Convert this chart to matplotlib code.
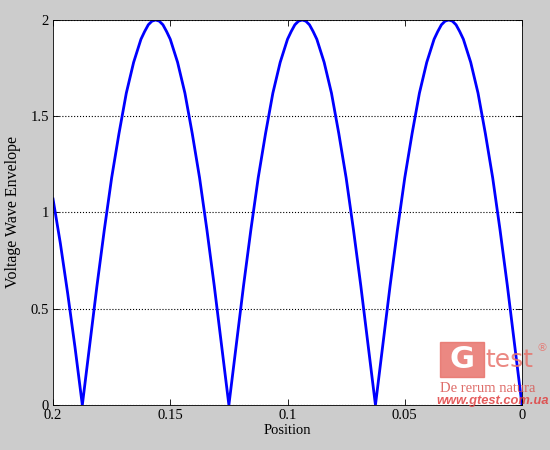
import matplotlib.pyplot as plt
from matplotlib.patches import Rectangle

# position along the line and the envelope
position = [0.0, 0.003125, 0.00625, 0.009375, 0.0125, 0.015625, 0.01875, 0.021875,
            0.025, 0.0265625, 0.028125, 0.0296875, 0.03125, 0.0328125, 0.034375, 0.0359375,
            0.0375, 0.040625, 0.04375, 0.046875, 0.05, 0.053125, 0.05625, 0.059375,
            0.0625, 0.065625, 0.06875, 0.071875, 0.075, 0.078125, 0.08125, 0.084375,
            0.0875, 0.0890625, 0.090625, 0.0921875, 0.09375, 0.0953125, 0.096875, 0.0984375,
            0.1, 0.103125, 0.10625, 0.109375, 0.1125, 0.115625, 0.11875, 0.121875,
            0.125, 0.128125, 0.13125, 0.134375, 0.1375, 0.140625, 0.14375, 0.146875,
            0.15, 0.1515625, 0.153125, 0.1546875, 0.15625, 0.1578125, 0.159375, 0.1609375,
            0.1625, 0.165625, 0.16875, 0.171875, 0.175, 0.178125, 0.18125, 0.184375,
            0.1875, 0.190625, 0.19375, 0.196875, 0.2]
envelope = [0.0, 0.31, 0.62, 0.91, 1.18, 1.41, 1.62, 1.78,
            1.90, 1.94, 1.975, 1.994, 2.00, 1.994, 1.975, 1.94,
            1.90, 1.78, 1.62, 1.41, 1.18, 0.91, 0.62, 0.31,
            0.0, 0.31, 0.62, 0.91, 1.18, 1.41, 1.62, 1.78,
            1.90, 1.94, 1.975, 1.994, 2.00, 1.994, 1.975, 1.94,
            1.90, 1.78, 1.62, 1.41, 1.18, 0.91, 0.62, 0.31,
            0.0, 0.31, 0.62, 0.91, 1.18, 1.41, 1.62, 1.78,
            1.90, 1.94, 1.975, 1.994, 2.00, 1.994, 1.975, 1.94,
            1.90, 1.78, 1.62, 1.41, 1.18, 0.91, 0.62, 0.31,
            0.0, 0.30, 0.58, 0.84, 1.07]

xticks = [0.2, 0.15, 0.1, 0.05, 0]
xticklabels = ['0.2', '0.15', '0.1', '0.05', '0']
yticks = [0, 0.5, 1, 1.5, 2]
yticklabels = ['0', '0.5', '1', '1.5', '2']

plt.rcParams['font.family'] = ['Liberation Serif', 'DejaVu Serif']
plt.rcParams['font.size'] = 10.5

fig = plt.figure(figsize=(5.5, 4.5), dpi=100, facecolor='#cccccc')
ax = fig.add_axes([0.0964, 0.1, 0.8527, 0.8556])
ax.plot(position, envelope, color='#0000ff', lw=2)

ax.set_xlim(0.2, 0)
ax.set_ylim(0, 2)
ax.set_xticks(xticks)
ax.set_xticklabels(xticklabels)
ax.set_yticks(yticks)
ax.set_yticklabels(yticklabels)
ax.tick_params(direction='in', length=4, top=True, right=True, width=0.6, pad=3)
ax.yaxis.grid(True, ls=':', color='k', lw=0.8)
for s in ax.spines.values():
    s.set_linewidth(0.6)
ax.set_xlabel('Position', labelpad=1)
ax.set_ylabel('Voltage Wave Envelope', fontsize=11.5, labelpad=7)

# watermark
fig.patches.append(Rectangle((440/550, 1-377/450), 44/550, 35/450, transform=fig.transFigure,
                             color='#e8736c', alpha=0.85, zorder=5))
fig.text(462/550, 1-360/450, 'G', color='white', fontsize=22, fontweight='bold',
         family='DejaVu Sans', ha='center', va='center', zorder=6)
fig.text(485/550, 1-360/450, 'test', color='#e8736c', alpha=0.85, fontsize=18,
         family='DejaVu Sans', ha='left', va='center', zorder=6)
fig.text(536/550, 1-348/450, '®', color='#e8736c', alpha=0.85, fontsize=8,
         family='DejaVu Sans', ha='left', va='center', zorder=6)
fig.text(440/550, 1-389/450, 'De rerum natura', color='#d9534f', alpha=0.85, fontsize=10.5,
         ha='left', va='center', zorder=6)
fig.text(436/550, 1-401/450, 'www.gtest.com.ua', color='#e04040', alpha=0.85, fontsize=9.3,
         family='Liberation Sans', style='italic', fontweight='bold', ha='left', va='center',
         zorder=6)

fig.savefig('out.png', dpi=100, facecolor=fig.get_facecolor())
